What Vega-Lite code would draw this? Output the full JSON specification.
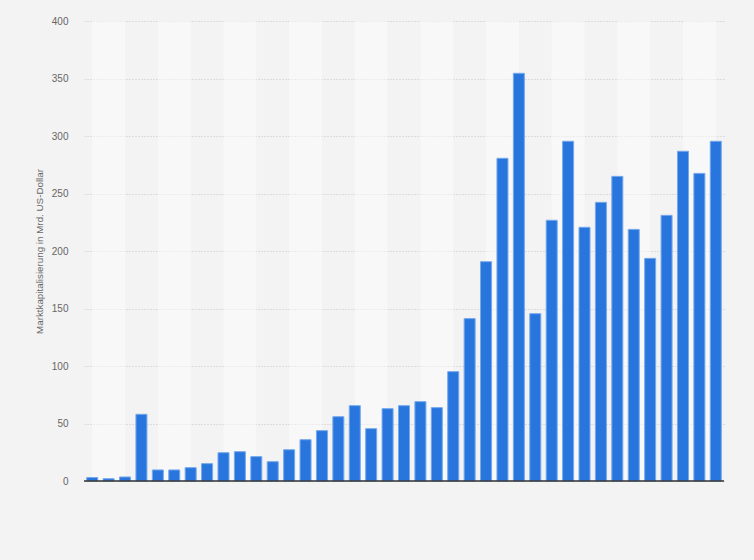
{
  "$schema": "https://vega.github.io/schema/vega-lite/v6.json",
  "width": 640,
  "height": 460,
  "autosize": "none",
  "padding": {"left": 84, "top": 21, "right": 30, "bottom": 79},
  "background": "#f3f3f3",
  "config": {"view": {"stroke": null}, "font": "Liberation Sans"},
  "datasets": {
    "streifen": [
      {"von": 1, "bis": 3}, {"von": 5, "bis": 7}, {"von": 9, "bis": 11}, {"von": 13, "bis": 15},
      {"von": 17, "bis": 19}, {"von": 21, "bis": 23}, {"von": 25, "bis": 27}, {"von": 29, "bis": 31},
      {"von": 33, "bis": 35}, {"von": 37, "bis": 39}
    ],
    "werte": [
      {"nr": 1, "wert": 3}, {"nr": 2, "wert": 2}, {"nr": 3, "wert": 3.5}, {"nr": 4, "wert": 58},
      {"nr": 5, "wert": 9.6}, {"nr": 6, "wert": 9.6}, {"nr": 7, "wert": 11.6}, {"nr": 8, "wert": 15.1},
      {"nr": 9, "wert": 24.6}, {"nr": 10, "wert": 25.5}, {"nr": 11, "wert": 21.2}, {"nr": 12, "wert": 16.8},
      {"nr": 13, "wert": 27.2}, {"nr": 14, "wert": 35.9}, {"nr": 15, "wert": 43.8}, {"nr": 16, "wert": 55.9},
      {"nr": 17, "wert": 65.5}, {"nr": 18, "wert": 45.5}, {"nr": 19, "wert": 62.9}, {"nr": 20, "wert": 65.5},
      {"nr": 21, "wert": 69}, {"nr": 22, "wert": 63.8}, {"nr": 23, "wert": 95.1}, {"nr": 24, "wert": 141.2},
      {"nr": 25, "wert": 190.7}, {"nr": 26, "wert": 280.6}, {"nr": 27, "wert": 354.5}, {"nr": 28, "wert": 145.5},
      {"nr": 29, "wert": 226.7}, {"nr": 30, "wert": 295.4}, {"nr": 31, "wert": 220.6}, {"nr": 32, "wert": 242.3},
      {"nr": 33, "wert": 264.9}, {"nr": 34, "wert": 218.8}, {"nr": 35, "wert": 193.6}, {"nr": 36, "wert": 231},
      {"nr": 37, "wert": 286.7}, {"nr": 38, "wert": 267.5}, {"nr": 39, "wert": 295.4}
    ],
    "basis": [{"wert": 0}]
  },
  "layer": [
    {
      "data": {"name": "streifen"},
      "mark": {"type": "rect", "color": "#ffffff", "opacity": 0.45},
      "encoding": {
        "x": {"field": "von", "type": "quantitative", "scale": {"domain": [0.5, 39.5], "nice": false, "zero": false, "padding": 0}, "axis": null},
        "x2": {"field": "bis"}
      }
    },
    {
      "data": {"name": "werte"},
      "mark": {"type": "bar", "width": 11, "color": "#2876dd", "stroke": "#75a8ec", "strokeWidth": 1},
      "encoding": {
        "x": {"field": "nr", "type": "quantitative", "axis": null},
        "y": {
          "field": "wert", "type": "quantitative",
          "scale": {"domain": [0, 400], "nice": false},
          "axis": {
            "values": [0, 50, 100, 150, 200, 250, 300, 350, 400],
            "title": "Marktkapitalisierung in Mrd. US-Dollar",
            "domain": false, "ticks": false,
            "labelColor": "#666666", "labelFontSize": 10, "labelPadding": 16,
            "gridColor": "#c4c4c4", "gridDash": [1, 2], "gridWidth": 1,
            "titleColor": "#666666", "titleFontSize": 9.8, "titleFontWeight": "normal",
            "titleX": -45, "titleY": 230, "titleAlign": "center", "titleBaseline": "middle", "titleAngle": -90
          }
        }
      }
    },
    {
      "data": {"name": "basis"},
      "mark": {"type": "rule", "color": "#333333", "strokeWidth": 1.5},
      "encoding": {"y": {"field": "wert", "type": "quantitative"}}
    }
  ]
}
